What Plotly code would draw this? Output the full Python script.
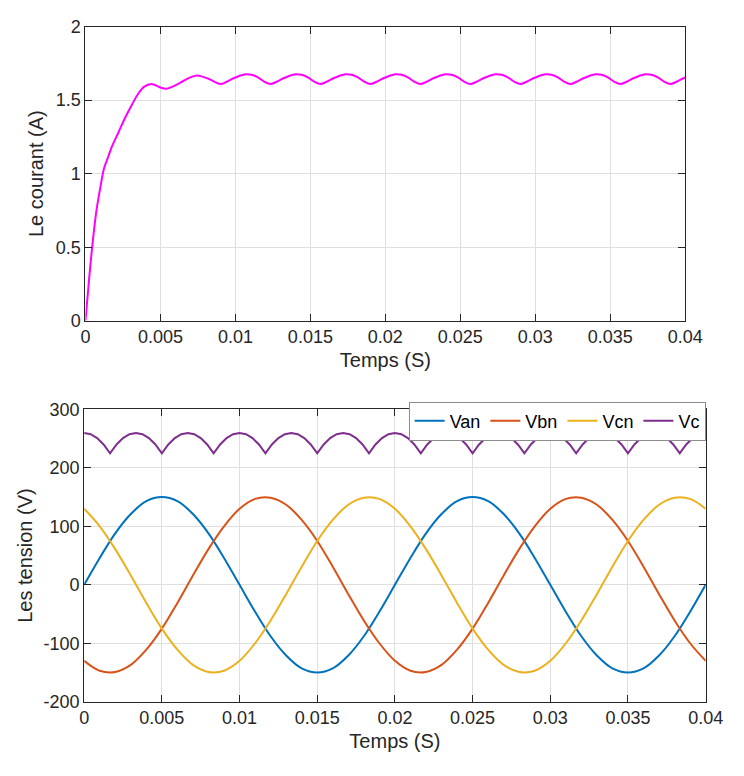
import numpy as np
import plotly.graph_objects as go

# ---- Courant de charge (A) : régime transitoire ----
t_transit = [0.0, 0.00025, 0.0005, 0.00075, 0.001, 0.00125, 0.0015, 0.00175,
             0.0022, 0.0026, 0.003, 0.0035, 0.0039, 0.0044, 0.00495, 0.0054,
             0.0063, 0.007, 0.00745, 0.0082]
i_transit = [0.0, 0.29, 0.55, 0.76, 0.91, 1.04, 1.11, 1.18,
             1.28, 1.37, 1.45, 1.54, 1.59, 1.61, 1.588, 1.578,
             1.617, 1.655, 1.668, 1.645]

# ---- Courant de charge (A) : régime établi, un point toutes les 1/2400 s depuis 9 ms ----
t_etabli = list(0.009 + np.arange(75) / 2400.0) + [0.04]
i_etabli = [1.609, 1.625, 1.647, 1.664, 1.676, 1.672, 1.655, 1.626,
            1.609, 1.625, 1.647, 1.664, 1.676, 1.672, 1.655, 1.626,
            1.609, 1.625, 1.647, 1.664, 1.676, 1.672, 1.655, 1.626,
            1.609, 1.625, 1.647, 1.664, 1.676, 1.672, 1.655, 1.626,
            1.609, 1.625, 1.647, 1.664, 1.676, 1.672, 1.655, 1.626,
            1.609, 1.625, 1.647, 1.664, 1.676, 1.672, 1.655, 1.626,
            1.609, 1.625, 1.647, 1.664, 1.676, 1.672, 1.655, 1.626,
            1.609, 1.625, 1.647, 1.664, 1.676, 1.672, 1.655, 1.626,
            1.609, 1.625, 1.647, 1.664, 1.676, 1.672, 1.655, 1.626,
            1.609, 1.625, 1.647, 1.655]

# ---- Tensions simples (V), échantillonnées toutes les 1 ms ----
t_phase = np.linspace(0, 0.04, 41)
van = [0, 46, 88, 121, 143, 150, 143, 121, 88, 46,
       0, -46, -88, -121, -143, -150, -143, -121, -88, -46,
       0, 46, 88, 121, 143, 150, 143, 121, 88, 46,
       0, -46, -88, -121, -143, -150, -143, -121, -88, -46, 0]
vbn = [-130, -147, -149, -137, -111, -75, -31, 16, 61, 100,
       130, 147, 149, 137, 111, 75, 31, -16, -61, -100,
       -130, -147, -149, -137, -111, -75, -31, 16, 61, 100,
       130, 147, 149, 137, 111, 75, 31, -16, -61, -100, -130]
vcn = [130, 100, 61, 16, -31, -75, -111, -137, -149, -147,
       -130, -100, -61, -16, 31, 75, 111, 137, 149, 147,
       130, 100, 61, 16, -31, -75, -111, -137, -149, -147,
       -130, -100, -61, -16, 31, 75, 111, 137, 149, 147, 130]

# ---- Tension redressée (V), échantillonnée toutes les 1/2400 s ----
t_vc = np.linspace(0, 0.04, 97)
vc = [259.8, 257.6, 251.0, 240.0, 225.0, 240.0, 251.0, 257.6,
      259.8, 257.6, 251.0, 240.0, 225.0, 240.0, 251.0, 257.6,
      259.8, 257.6, 251.0, 240.0, 225.0, 240.0, 251.0, 257.6,
      259.8, 257.6, 251.0, 240.0, 225.0, 240.0, 251.0, 257.6,
      259.8, 257.6, 251.0, 240.0, 225.0, 240.0, 251.0, 257.6,
      259.8, 257.6, 251.0, 240.0, 225.0, 240.0, 251.0, 257.6,
      259.8, 257.6, 251.0, 240.0, 225.0, 240.0, 251.0, 257.6,
      259.8, 257.6, 251.0, 240.0, 225.0, 240.0, 251.0, 257.6,
      259.8, 257.6, 251.0, 240.0, 225.0, 240.0, 251.0, 257.6,
      259.8, 257.6, 251.0, 240.0, 225.0, 240.0, 251.0, 257.6,
      259.8, 257.6, 251.0, 240.0, 225.0, 240.0, 251.0, 257.6,
      259.8, 257.6, 251.0, 240.0, 225.0, 240.0, 251.0, 257.6,
      259.8]

# ---- Graduations ----
x_ticks = [0, 0.005, 0.01, 0.015, 0.02, 0.025, 0.03, 0.035, 0.04]
x_labels = ["0", "0.005", "0.01", "0.015", "0.02", "0.025", "0.03", "0.035", "0.04"]
i_ticks = [0, 0.5, 1, 1.5, 2]
i_labels = ["0", "0.5", "1", "1.5", "2"]
v_ticks = [-200, -100, 0, 100, 200, 300]
v_labels = ["-200", "-100", "0", "100", "200", "300"]

FONT = "Liberation Sans, Arial, sans-serif"
TXT = "#262626"
GRID = "#dfdfdf"
W, H = 744, 776

t_courant = t_transit + t_etabli
i_courant = i_transit + i_etabli

fig = go.Figure()

fig.add_trace(go.Scatter(x=t_courant, y=i_courant, mode="lines",
                         line=dict(color="#FF00FF", width=2, shape="spline"),
                         showlegend=False, xaxis="x", yaxis="y"))

fig.add_trace(go.Scatter(x=t_phase, y=van, mode="lines", name="Van",
                         line=dict(color="#0072BD", width=2, shape="spline"),
                         xaxis="x2", yaxis="y2"))
fig.add_trace(go.Scatter(x=t_phase, y=vbn, mode="lines", name="Vbn",
                         line=dict(color="#D95319", width=2, shape="spline"),
                         xaxis="x2", yaxis="y2"))
fig.add_trace(go.Scatter(x=t_phase, y=vcn, mode="lines", name="Vcn",
                         line=dict(color="#EDB120", width=2, shape="spline"),
                         xaxis="x2", yaxis="y2"))
fig.add_trace(go.Scatter(x=t_vc, y=vc, mode="lines", name="Vc",
                         line=dict(color="#7E2F8E", width=2),
                         xaxis="x2", yaxis="y2"))

axis_common = dict(
    showline=True, linecolor=TXT, linewidth=1, mirror="ticks",
    ticks="inside", ticklen=7, tickwidth=1, tickcolor=TXT,
    showgrid=True, gridcolor=GRID, gridwidth=1, zeroline=False,
    tickfont=dict(family=FONT, size=18, color=TXT),
    tickmode="array",
)

def px_x(p):
    return p / W

def px_y(p):
    return 1 - p / H

title_font = dict(family=FONT, size=20, color=TXT)

fig.update_layout(
    width=W, height=H,
    margin=dict(l=0, r=0, t=0, b=0),
    paper_bgcolor="white", plot_bgcolor="white",
    font=dict(family=FONT, color=TXT),
    xaxis=dict(axis_common, domain=[px_x(83), px_x(702)], anchor="y",
               range=[0, 0.04], tickvals=x_ticks, ticktext=x_labels,
               title=dict(text="Temps (S)", font=title_font, standoff=6)),
    yaxis=dict(axis_common, domain=[px_y(319), px_y(17)], anchor="x",
               range=[0, 2], tickvals=i_ticks, ticktext=i_labels,
               title=dict(text="Le courant (A)", font=title_font, standoff=6)),
    xaxis2=dict(axis_common, domain=[px_x(81.7), px_x(723)], anchor="y2",
                range=[0, 0.04], tickvals=x_ticks, ticktext=x_labels,
                title=dict(text="Temps (S)", font=title_font, standoff=6)),
    yaxis2=dict(axis_common, domain=[px_y(710), px_y(410)], anchor="x2",
                range=[-200, 300], tickvals=v_ticks, ticktext=v_labels,
                title=dict(text="Les tension (V)", font=title_font, standoff=5)),
    legend=dict(orientation="h", x=px_x(723), xanchor="right", y=px_y(402), yanchor="top",
                bgcolor="white", bordercolor="#8c8c8c", borderwidth=1,
                font=dict(family=FONT, size=18, color="#000000"),
                itemwidth=30, tracegroupgap=0),
)

fig.write_html("out.html")
